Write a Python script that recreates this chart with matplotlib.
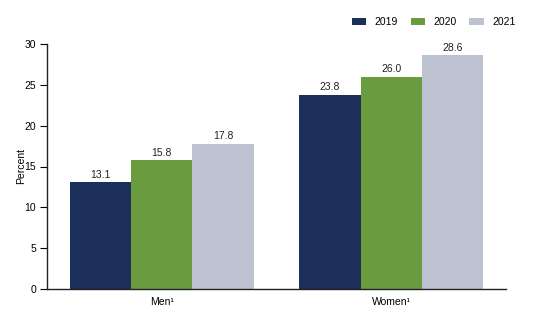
import matplotlib
matplotlib.use("Agg")
import matplotlib.pyplot as plt
import numpy as np

plt.rcParams['font.family'] = ['Liberation Sans', 'DejaVu Sans']

categories = ["Men\u00b9", "Women\u00b9"]
years = ["2019", "2020", "2021"]
values = {
    "2019": [13.1, 23.8],
    "2020": [15.8, 26.0],
    "2021": [17.8, 28.6],
}
colors = ["#1c2e5a", "#6a9c3f", "#bcc2cf"]

fs = 7.5
fig = plt.figure(figsize=(5.6, 3.21), dpi=100)
ax = fig.add_axes([47/560, 32/321, 459/560, 245/321])

x = np.arange(len(categories))
w = 0.267
for i, (yr, c) in enumerate(zip(years, colors)):
    bars = ax.bar(x + (i - 1) * w, values[yr], width=w, color=c, label=yr)
    for b, v in zip(bars, values[yr]):
        ax.text(b.get_x() + b.get_width() / 2, v + 0.3, f"{v:.1f}",
                ha="center", va="bottom", fontsize=fs, color="#222222")

ax.set_xlim(-0.5, 1.5)
ax.set_ylim(0, 30)
ax.set_yticks(range(0, 31, 5))
ax.set_xticks(x)
ax.set_xticklabels(categories, fontsize=fs)
ax.tick_params(axis='x', length=0, pad=6)
ax.tick_params(axis='y', labelsize=fs, length=5, width=0.8, pad=3)
ax.set_ylabel("Percent", fontsize=fs, labelpad=-1)
for s in ["top", "right"]:
    ax.spines[s].set_visible(False)
for s in ["left", "bottom"]:
    ax.spines[s].set_linewidth(1.0)
    ax.spines[s].set_color("#222222")

fig.legend(loc="upper right", bbox_to_anchor=(525/560, 1 - 8/321), ncol=3,
           frameon=False, fontsize=fs, handlelength=1.4, handleheight=0.7,
           columnspacing=1.2, handletextpad=0.8)

fig.savefig("out.png", dpi=100)
